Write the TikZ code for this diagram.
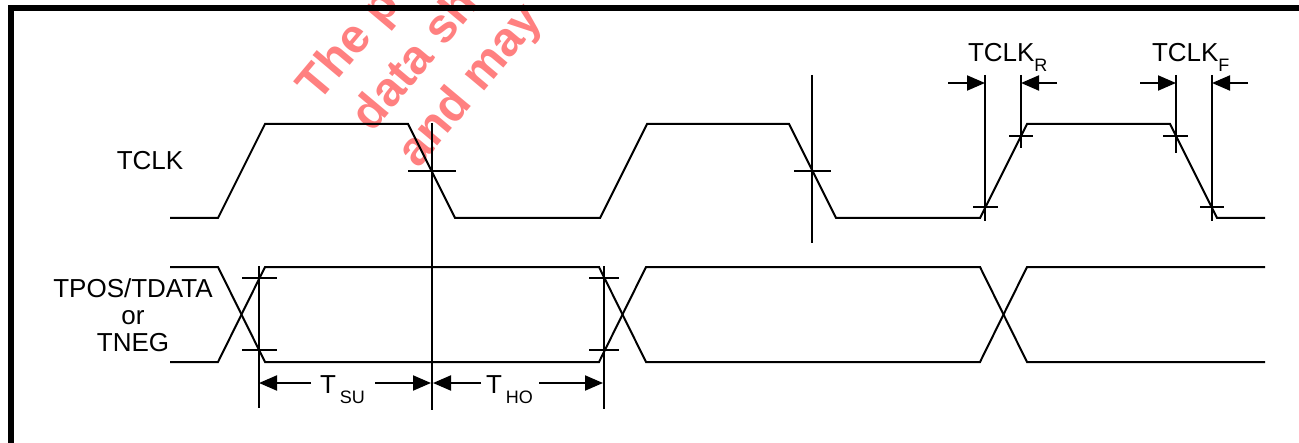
\documentclass[tikz,border=0pt]{standalone}
\usepackage{fontspec}
\setmainfont{Liberation Sans}
\usetikzlibrary{arrows.meta}

\newcommand{\lowsub}[1]{\raisebox{-5pt}{\fontsize{9}{9}\selectfont #1}}

\begin{document}
\begin{tikzpicture}[x=0.5pt, y=-0.5pt, line width=1pt,
  dim/.style={-{Triangle[length=9pt,width=7.5pt]}},
  lbl/.style={font=\fontsize{13}{13.5}\selectfont, inner sep=0pt},
  wmark/.style={font=\fontsize{24}{24}\selectfont\bfseries, text=red!50, inner sep=0pt, rotate=50, anchor=base west}]
\useasboundingbox (0,0) rectangle (1299,443);
\begin{scope}
\clip (0,0) rectangle (1299,443);
\node [wmark] (wm1) at (318,104) {The p};
\node [wmark] (wm2) at (372,134) {data sh};
\node [wmark] (wm3) at (418,170) {and may};
\end{scope}
\draw [line width=3pt] (10.5,443) -- (10.5,8) -- (1299,8);
\draw (170,218) -- (218,218) -- (265,124) -- (408,124) -- (455,218) -- (600,218) -- (647,124) -- (789,124) -- (836,218) -- (980,218) -- (1027,124) -- (1170,124) -- (1217,218) -- (1265,218);
\draw (170,267) -- (218,267) -- (265,362) -- (599,362) -- (646,267) -- (980,267) -- (1027,362) -- (1265,362);
\draw (170,362) -- (218,362) -- (265,267) -- (599,267) -- (646,362) -- (980,362) -- (1027,267) -- (1265,267);
\draw (432,123) -- (432,410);
\draw (408,171) -- (456,171);
\draw (259,266) -- (259,408);
\draw (242,278) -- (277,278);
\draw (242,350) -- (277,350);
\draw (604,266) -- (604,409);
\draw (589,278) -- (619,278);
\draw (589,350) -- (619,350);
\draw (812,75) -- (812,243);
\draw (794,171) -- (831,171);
\draw (985,75) -- (985,221);
\draw (973,207) -- (998,207);
\draw (1021,75) -- (1021,148);
\draw (1009,136) -- (1033,136);
\draw (1176,75) -- (1176,153);
\draw (1163,136) -- (1188,136);
\draw (1212,75) -- (1212,221);
\draw (1200,207) -- (1224,207);
\draw [dim] (948,83) -- (985,83);
\draw [dim] (1057,83) -- (1021,83);
\draw [dim] (1140,83) -- (1176,83);
\draw [dim] (1248,83) -- (1212,83);
\draw [dim] (311,383) -- (259,383);
\draw [dim] (375,383) -- (431,383);
\draw [dim] (481,383) -- (433,383);
\draw [dim] (539,383) -- (603,383);
\node [lbl] (tclk) at (150,161) {TCLK};
\node [lbl, align=center] (tdata) at (133,315) {TPOS/TDATA\\or\\TNEG};
\node [lbl, anchor=base west] (tclkr) at (967,62) {TCLK\lowsub{R}};
\node [lbl, anchor=base west] (tclkf) at (1151,62) {TCLK\lowsub{F}};
\node [lbl, anchor=base west] (tsu) at (319,393) {T\kern2pt\lowsub{SU}};
\node [lbl, anchor=base west] (tho) at (485,393) {T\kern2pt\lowsub{HO}};
\end{tikzpicture}
\end{document}
